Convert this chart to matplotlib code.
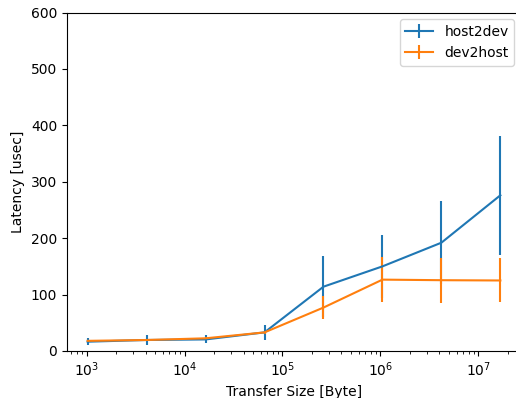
import matplotlib
matplotlib.use("Agg")
import matplotlib.pyplot as plt

sizes = [1024, 4096, 16384, 65536, 262144, 1048576, 4194304, 16777216]
h2d_mean = [16.5, 19.5, 20.5, 33, 114, 150, 192, 276]
h2d_err = [6, 9.5, 7, 13, 54, 56, 74, 105]
d2h_mean = [18, 19.5, 22.5, 33, 77, 126.5, 125.5, 125]
d2h_err = [2, 2, 2, 2, 21, 40, 40, 39]

fig = plt.figure(figsize=(5.16, 3.98), dpi=100)
ax = fig.add_axes([67 / 516, 47 / 398, (521 - 67) / 516, (351 - 12.5) / 398])
ax.errorbar(sizes, h2d_mean, yerr=h2d_err, label="host2dev")
ax.errorbar(sizes, d2h_mean, yerr=d2h_err, label="dev2host")
ax.set_xscale("log")
ax.set_ylim(0, 600)
ax.spines["right"].set_visible(False)
ax.set_xlabel("Transfer Size [Byte]")
ax.set_ylabel("Latency [usec]")
ax.legend(loc="upper right")
fig.savefig("out.png", dpi=100)
